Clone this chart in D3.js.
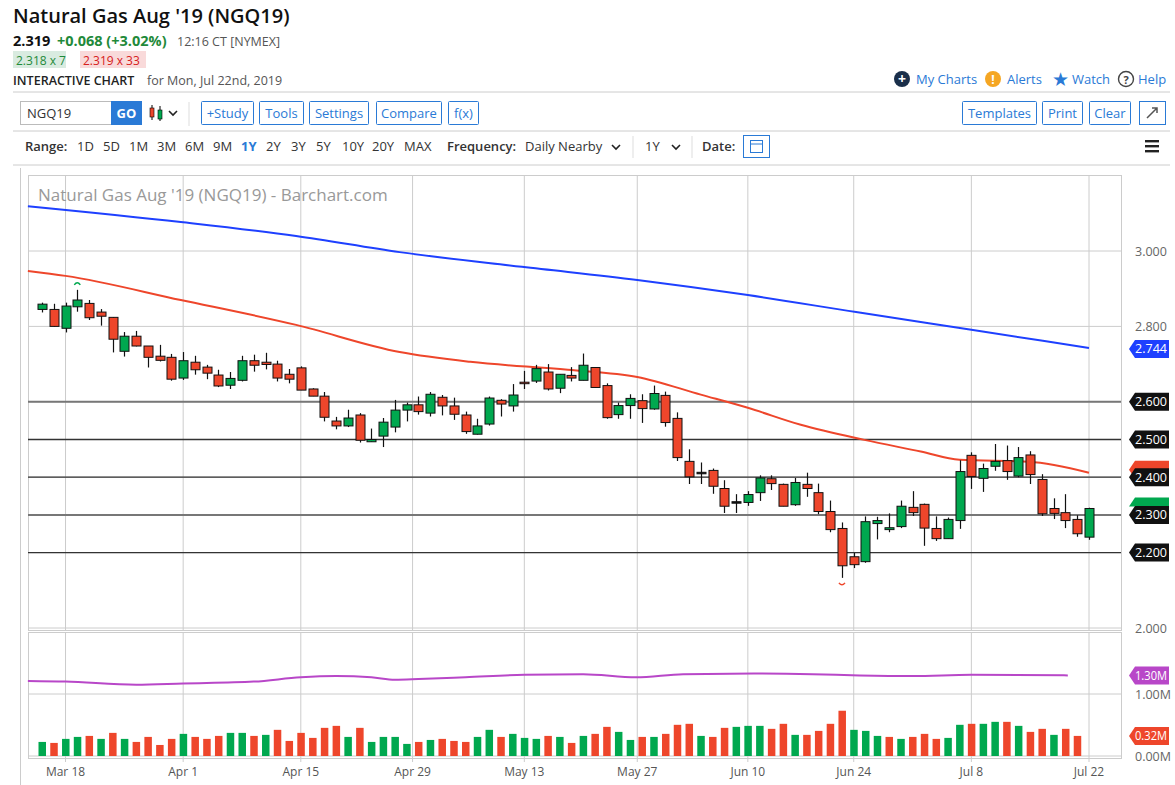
<!DOCTYPE html>
<html><head><meta charset="utf-8">
<script src="https://cdn.jsdelivr.net/npm/d3@7"></script>
<style>
body{margin:0;background:#fff;font-family:"Open Sans",sans-serif;}
</style></head>
<body><svg id="c" width="1175" height="785"></svg>
<script>
// ---------- DATA ----------
const opens  = [2.845,2.845,2.795,2.852,2.861,2.838,2.824,2.734,2.774,2.748,2.721,2.718,2.663,2.705,2.692,2.671,2.644,2.657,2.709,2.705,2.700,2.673,2.690,2.634,2.615,2.549,2.536,2.565,2.494,2.509,2.533,2.578,2.592,2.570,2.612,2.589,2.565,2.514,2.541,2.604,2.589,2.652,2.655,2.679,2.636,2.670,
2.657,2.691,2.643,2.566,2.590,2.603,2.581,2.617,2.556,2.442,2.413,2.418,2.370,2.335,2.333,2.359,2.396,2.381,2.327,2.381,2.359,2.309,2.264,2.189,2.176,2.277,2.261,2.269,2.320,2.328,2.264,2.237,2.285,2.458,2.397,2.429,2.444,2.403,2.459,2.394,2.317,2.306,2.288,2.241];
const closes = [2.859,2.800,2.854,2.870,2.823,2.827,2.766,2.774,2.748,2.718,2.710,2.660,2.709,2.685,2.676,2.642,2.662,2.709,2.697,2.699,2.663,2.660,2.631,2.615,2.559,2.536,2.557,2.498,2.500,2.546,2.578,2.592,2.574,2.620,2.589,2.567,2.521,2.536,2.610,2.594,2.618,2.650,2.688,2.634,2.673,2.663,
2.697,2.638,2.558,2.590,2.609,2.582,2.622,2.545,2.452,2.401,2.413,2.376,2.323,2.335,2.354,2.398,2.383,2.323,2.386,2.370,2.309,2.261,2.165,2.168,2.282,2.285,2.266,2.323,2.306,2.265,2.237,2.288,2.415,2.402,2.423,2.442,2.415,2.452,2.407,2.303,2.304,2.285,2.250,2.317];
const highs  = [2.863,2.860,2.863,2.897,2.870,2.846,2.825,2.785,2.788,2.748,2.751,2.727,2.732,2.722,2.698,2.685,2.679,2.722,2.725,2.730,2.709,2.687,2.694,2.636,2.626,2.560,2.579,2.570,2.529,2.557,2.605,2.598,2.614,2.626,2.618,2.611,2.574,2.555,2.614,2.607,2.647,2.682,2.698,2.700,2.673,2.692,
2.728,2.691,2.649,2.598,2.620,2.620,2.643,2.627,2.572,2.474,2.439,2.423,2.392,2.355,2.363,2.405,2.405,2.383,2.398,2.412,2.383,2.338,2.280,2.199,2.296,2.295,2.304,2.338,2.363,2.330,2.296,2.293,2.445,2.466,2.436,2.488,2.484,2.480,2.469,2.408,2.344,2.355,2.299,2.319];
const lows   = [2.837,2.799,2.784,2.839,2.817,2.802,2.731,2.720,2.747,2.691,2.707,2.656,2.658,2.672,2.660,2.639,2.634,2.654,2.680,2.686,2.654,2.649,2.631,2.615,2.548,2.527,2.533,2.492,2.494,2.480,2.519,2.548,2.566,2.561,2.564,2.552,2.515,2.513,2.537,2.561,2.574,2.634,2.650,2.630,2.623,2.654,
2.657,2.638,2.555,2.555,2.555,2.544,2.579,2.534,2.443,2.382,2.382,2.356,2.305,2.305,2.324,2.337,2.366,2.323,2.324,2.348,2.302,2.254,2.133,2.159,2.173,2.235,2.254,2.265,2.297,2.218,2.231,2.237,2.263,2.369,2.361,2.417,2.393,2.400,2.382,2.297,2.289,2.265,2.242,2.234];
const volumes = [0.227,0.211,0.276,0.308,0.324,0.276,0.373,0.276,0.227,0.308,0.178,0.276,0.357,0.308,0.276,0.324,0.373,0.373,0.324,0.341,0.422,0.243,0.373,0.292,0.454,0.486,0.308,0.454,0.227,0.308,0.308,0.195,0.227,0.259,0.276,0.243,0.227,0.308,0.422,0.308,0.357,0.292,0.276,0.324,0.308,0.211,
0.324,0.357,0.470,0.389,0.259,0.308,0.308,0.357,0.503,0.519,0.324,0.308,0.454,0.470,0.486,0.486,0.438,0.519,0.341,0.341,0.405,0.519,0.730,0.422,0.405,0.324,0.308,0.276,0.308,0.357,0.276,0.292,0.503,0.519,0.519,0.551,0.551,0.486,0.389,0.438,0.341,0.438,0.324,null];
// moving averages: [bar index, value]
const ma50  = [[-1.2,2.947],[2,2.934],[11.8,2.870],[21.6,2.804],[30.4,2.732],[36.4,2.706],[44.7,2.685],[50.6,2.666],[56,2.619],[60,2.584],[64.5,2.539],[69.9,2.499],[74.7,2.468],[78,2.446],[83.9,2.441],[89,2.412]];
const ma200 = [[-1.2,3.119],[11.8,3.077],[21.6,3.040],[30.4,2.997],[40.8,2.958],[50.6,2.923],[60,2.883],[69.2,2.838],[79,2.791],[89,2.743]];
const volAvg = [[-1.2,1.21],[2,1.20],[8,1.15],[12,1.17],[18,1.20],[22,1.27],[25,1.29],[28,1.27],[30,1.23],[32,1.24],[36,1.27],[41,1.31],[46,1.32],[50.5,1.27],[54.5,1.32],[60.5,1.33],[65.5,1.32],[69.5,1.30],[74,1.29],[79,1.31],[87.2,1.30]];
const tickIdx = [2,12,22,31.5,41,50.6,60,69,79,89];
const tickLabels = ["Mar 18","Apr 1","Apr 15","Apr 29","May 13","May 27","Jun 10","Jun 24","Jul 8","Jul 22"];
const priceTicks = [2.0,2.2,2.4,2.6,2.8,3.0];
const levels = [2.2,2.3,2.4,2.5,2.6];
const volTicks = [0,1];

// ---------- SETUP ----------
const svg = d3.select("#c");
const GREEN="#00a84f", RED="#ee462b", BLUE="#1e40ff", FONT='"Open Sans",sans-serif';
const L=28, R=1121, PT=175, PB=630, VT=632, VB=758;
const N=opens.length;
const x = d3.scaleLinear().domain([0,N-1]).range([42,1089]);
const y = d3.scaleLinear().domain([2.0,3.0]).range([628,251]);
const yv = d3.scaleLinear().domain([0,1]).range([756,694]);

// ---------- HEADER ----------
const t=(tx,ty,s,o={})=>svg.append("text").attr("x",tx).attr("y",ty).text(s)
  .attr("font-family",FONT).attr("font-size",o.fs||13).attr("fill",o.fill||"#222")
  .attr("font-weight",o.fw||"normal").attr("text-anchor",o.ta||"start");
t(13,23,"Natural Gas Aug '19 (NGQ19)",{fs:20,fw:"600",fill:"#111"});
t(13,46,"2.319",{fs:14.5,fw:"bold",fill:"#111"});
t(57,46,"+0.068 (+3.02%)",{fs:14.5,fw:"bold",fill:"#1f8a3a"});
t(177,46,"12:16 CT [NYMEX]",{fs:12.5,fill:"#555"});
svg.append("rect").attr("x",13).attr("y",51).attr("width",53).attr("height",17).attr("fill","#d9ebe0");
t(16,65,"2.318 x 7",{fs:12,fill:"#1f8a3a"});
svg.append("rect").attr("x",80).attr("y",51).attr("width",66).attr("height",17).attr("fill","#f9dada");
t(83,65,"2.319 x 33",{fs:12,fill:"#d62020"});
t(13,85,"INTERACTIVE CHART",{fs:12.5,fw:"600",fill:"#222"});
t(147,85,"for Mon, Jul 22nd, 2019",{fs:12.5,fill:"#555"});
svg.append("circle").attr("cx",902).attr("cy",79).attr("r",8).attr("fill","#1a2f4a");
t(902,83.5,"+",{fs:14,fw:"bold",fill:"#fff",ta:"middle"});
t(916,84,"My Charts",{fs:13,fill:"#2a7ad6"});
svg.append("circle").attr("cx",993).attr("cy",79).attr("r",8).attr("fill","#f5a623");
t(993,84,"!",{fs:12,fw:"bold",fill:"#fff",ta:"middle"});
t(1007,84,"Alerts",{fs:13,fill:"#2a7ad6"});
t(1052,86,"★",{fs:19,fill:"#2a7ad6"});
t(1072,84,"Watch",{fs:13,fill:"#2a7ad6"});
svg.append("circle").attr("cx",1126).attr("cy",79).attr("r",7.5).attr("fill","none").attr("stroke","#444").attr("stroke-width",1.4);
t(1126,83.5,"?",{fs:11,fw:"bold",fill:"#444",ta:"middle"});
t(1138,84,"Help",{fs:13,fill:"#2a7ad6"});
svg.append("line").attr("x1",13).attr("x2",1170).attr("y1",92).attr("y2",92).attr("stroke","#ccc");
// toolbar
svg.append("rect").attr("x",20.5).attr("y",101.5).attr("width",91).attr("height",23).attr("fill","#fff").attr("stroke","#bbb");
t(27,118,"NGQ19",{fs:13,fill:"#333"});
svg.append("rect").attr("x",111).attr("y",101).attr("width",31).attr("height",24).attr("fill","#2a7ad6");
t(126.5,118,"GO",{fs:13,fw:"bold",fill:"#fff",ta:"middle"});
svg.append("line").attr("x1",152).attr("x2",152).attr("y1",105).attr("y2",120).attr("stroke","#000");
svg.append("line").attr("x1",160).attr("x2",160).attr("y1",106).attr("y2",121).attr("stroke","#000");
svg.append("rect").attr("x",150).attr("y",108).attr("width",4).attr("height",9).attr("fill",RED).attr("stroke","#000").attr("stroke-width",0.6);
svg.append("rect").attr("x",158).attr("y",110).attr("width",4).attr("height",9).attr("fill",GREEN).attr("stroke","#000").attr("stroke-width",0.6);
svg.append("path").attr("d","M169,111 l4,4 l4,-4").attr("fill","none").attr("stroke","#222").attr("stroke-width",1.6);
svg.append("line").attr("x1",189).attr("x2",189).attr("y1",102).attr("y2",126).attr("stroke","#ddd");
[["+Study",201,52],["Tools",259,44],["Settings",309,59],["Compare",376,65],["f(x)",448,30],["Templates",962,74],["Print",1042,40],["Clear",1089,41]].forEach(([s,bx,bw])=>{
  svg.append("rect").attr("x",bx+0.5).attr("y",101.5).attr("width",bw).attr("height",23).attr("fill","#fff").attr("stroke","#2a7ad6").attr("rx",1);
  t(bx+bw/2+0.5,118,s,{fs:13,fill:"#2a7ad6",ta:"middle"});
});
svg.append("rect").attr("x",1139.5).attr("y",101.5).attr("width",26).attr("height",23).attr("fill","#fff").attr("stroke","#2a7ad6");
svg.append("path").attr("d","M1147,118 l10,-10 m-5,0 h5 v5").attr("fill","none").attr("stroke","#555").attr("stroke-width",1.5);
svg.append("line").attr("x1",13).attr("x2",1170).attr("y1",131).attr("y2",131).attr("stroke","#ccc");
// range row
t(25,151,"Range:",{fs:13,fw:"600",fill:"#333"});
[["1D",77],["5D",103],["1M",129],["3M",157],["6M",185],["9M",213],["1Y",241],["2Y",266],["3Y",291],["5Y",316],["10Y",342],["20Y",372],["MAX",404]].forEach(([s,px])=>
  t(px,151,s,{fs:13,fill:s==="1Y"?"#2a7ad6":"#333",fw:s==="1Y"?"bold":"normal"}));
t(447,151,"Frequency:",{fs:13,fw:"600",fill:"#333"});
t(525,151,"Daily Nearby",{fs:13,fill:"#333"});
svg.append("path").attr("d","M612,145 l4,4 l4,-4").attr("fill","none").attr("stroke","#222").attr("stroke-width",1.6);
svg.append("line").attr("x1",633).attr("x2",633).attr("y1",136).attr("y2",158).attr("stroke","#ddd");
t(645,151,"1Y",{fs:13,fill:"#333"});
svg.append("path").attr("d","M672,145 l4,4 l4,-4").attr("fill","none").attr("stroke","#222").attr("stroke-width",1.6);
svg.append("line").attr("x1",692).attr("x2",692).attr("y1",136).attr("y2",158).attr("stroke","#ddd");
t(702,151,"Date:",{fs:13,fw:"600",fill:"#333"});
svg.append("rect").attr("x",743.5).attr("y",135.5).attr("width",26).attr("height",22).attr("fill","#fff").attr("stroke","#2a7ad6");
svg.append("rect").attr("x",750.5).attr("y",140.5).attr("width",12).attr("height",12).attr("fill","none").attr("stroke","#2a7ad6");
svg.append("line").attr("x1",750).attr("x2",763).attr("y1",144).attr("y2",144).attr("stroke","#2a7ad6");
[140,145,150].forEach(hy=>svg.append("rect").attr("x",1145).attr("y",hy).attr("width",14).attr("height",2.4).attr("fill","#222"));
svg.append("line").attr("x1",13).attr("x2",1170).attr("y1",165).attr("y2",165).attr("stroke","#ccc");

// ---------- CHART FRAME & GRID ----------
svg.append("rect").attr("x",L+0.5).attr("y",PT+0.5).attr("width",R-L).attr("height",PB-PT).attr("fill","none").attr("stroke","#ccc");
svg.append("rect").attr("x",L+0.5).attr("y",VT+0.5).attr("width",R-L).attr("height",VB-VT).attr("fill","none").attr("stroke","#ccc");
svg.append("line").attr("x1",20.5).attr("x2",20.5).attr("y1",168).attr("y2",785).attr("stroke","#ccc");
const g=svg.append("g");
tickIdx.forEach(i=>{
  g.append("line").attr("x1",x(i)).attr("x2",x(i)).attr("y1",PT).attr("y2",PB).attr("stroke","#ccc");
  g.append("line").attr("x1",x(i)).attr("x2",x(i)).attr("y1",VT).attr("y2",VB+4).attr("stroke","#ccc");
});
priceTicks.forEach(p=>g.append("line").attr("x1",L).attr("x2",R).attr("y1",y(p)).attr("y2",y(p)).attr("stroke","#ccc"));
volTicks.forEach(v=>g.append("line").attr("x1",L).attr("x2",R).attr("y1",yv(v)).attr("y2",yv(v)).attr("stroke","#ccc"));
levels.forEach(p=>g.append("line").attr("x1",L).attr("x2",R).attr("y1",y(p)).attr("y2",y(p)).attr("stroke",p===2.3||p===2.6?"#777":"#333").attr("stroke-width",p===2.3||p===2.6?2:1.3));

t(38,201,"Natural Gas Aug '19 (NGQ19) - Barchart.com",{fs:17,fill:"#999"});

// axes labels
priceTicks.forEach(p=>{ if(p!==2.6&&p!==2.4&&p!==2.2) t(1135,y(p)+5,p.toFixed(3),{fs:12.5,fill:"#666"}); });
t(1135,yv(1)+5,"1.00M",{fs:12.5,fill:"#666"});
t(1135,yv(0)+5,"0.00M",{fs:12.5,fill:"#666"});
tickIdx.forEach((i,k)=>t(x(i),776,tickLabels[k],{fs:12,fill:"#555",ta:"middle"}));

// ---------- MA LINES ----------
const line=d3.line().x(d=>x(d[0])).y(d=>y(d[1])).curve(d3.curveMonotoneX);
svg.append("path").attr("d",line(ma200)).attr("fill","none").attr("stroke",BLUE).attr("stroke-width",2);
svg.append("path").attr("d",line(ma50)).attr("fill","none").attr("stroke",RED).attr("stroke-width",2);
const vline=d3.line().x(d=>x(d[0])).y(d=>yv(d[1])).curve(d3.curveMonotoneX);
svg.append("path").attr("d",vline(volAvg)).attr("fill","none").attr("stroke","#b847c8").attr("stroke-width",2);

// ---------- CANDLES ----------
const cg=svg.append("g");
opens.forEach((o,i)=>{
  const c=closes[i], up=c>=o, cx=Math.round(x(i))+0.5;
  cg.append("line").attr("x1",cx).attr("x2",cx).attr("y1",y(highs[i])).attr("y2",y(lows[i])).attr("stroke","#111").attr("stroke-width",1.2);
  const top=y(Math.max(o,c)), h=Math.max(1.5,Math.abs(y(o)-y(c)));
  cg.append("rect").attr("x",cx-4.5).attr("y",top).attr("width",9).attr("height",h)
    .attr("fill",Math.abs(c-o)<0.001?"#111":(up?GREEN:RED)).attr("stroke","#111").attr("stroke-width",1);
});
const hiI=d3.maxIndex(highs), loI=d3.minIndex(lows);
svg.append("path").attr("d",`M${x(hiI)-3},${y(highs[hiI])-5} q3,-4 6,0`).attr("fill","none").attr("stroke",GREEN).attr("stroke-width",1.5);
svg.append("path").attr("d",`M${x(loI)-3},${y(lows[loI])+5} q3,4 6,0`).attr("fill","none").attr("stroke",RED).attr("stroke-width",1.5);

// ---------- VOLUME ----------
volumes.forEach((v,i)=>{
  if(v==null) return;
  const up = i===0 ? true : closes[i]>=closes[i-1];
  svg.append("rect").attr("x",x(i)-3.5).attr("y",yv(v)).attr("width",7.5).attr("height",yv(0)-yv(v)).attr("fill",up?GREEN:RED);
});

// ---------- TAGS ----------
function tag(yy,bg,txt,fs){
  const gg=svg.append("g");
  gg.append("path").attr("d",`M1129,${yy} l6,-9 h34 v18 h-34 z`).attr("fill",bg);
  if(txt) gg.append("text").attr("x",1135).attr("y",yy+4.5).text(txt).attr("font-family",FONT)
    .attr("font-size",fs||12.5).attr("fill","#fff").attr("textLength",32).attr("lengthAdjust","spacingAndGlyphs");
}
tag(y(ma50[ma50.length-1][1])-3,RED,"");
// last price tag: only a sliver shows above the 2.300 tag
svg.append("path").attr("d",`M1129,${y(closes[N-1])-2} l6,-9 h34 v9 z`).attr("fill",GREEN);
levels.forEach(p=>tag(y(p),"#111",p.toFixed(3)));
tag(y(ma200[ma200.length-1][1])+1,BLUE,"2.744");
tag(yv(volAvg[volAvg.length-1][1]),"#b847c8","1.30M");
tag(yv(volumes[N-2]),RED,"0.32M");
</script></body></html>
